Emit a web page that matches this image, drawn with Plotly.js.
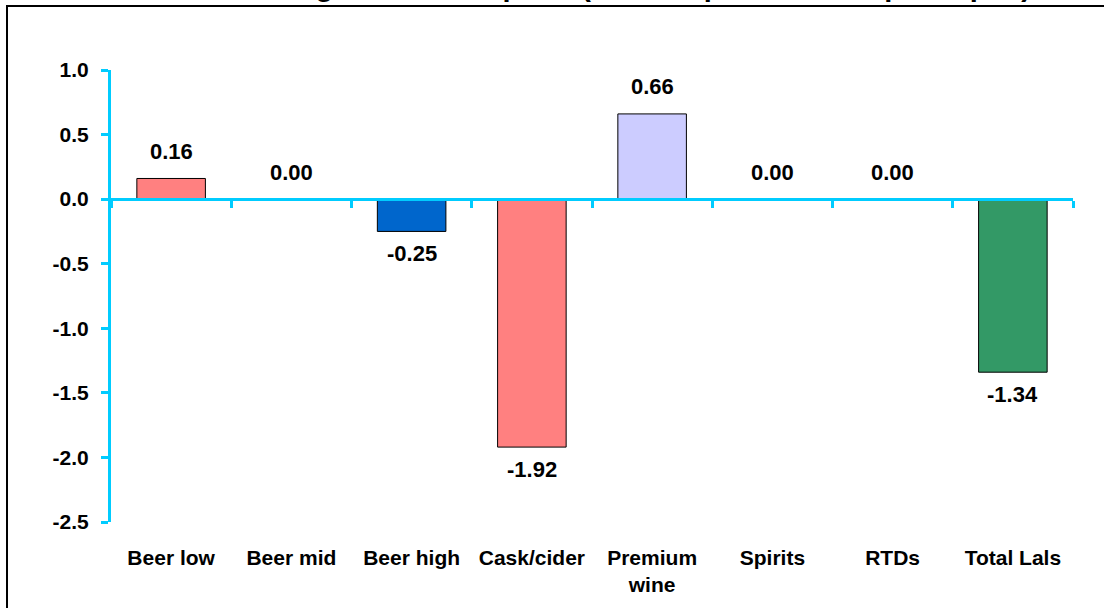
<!DOCTYPE html>
<html>
<head>
<meta charset="utf-8">
<script src="https://cdn.plot.ly/plotly-3.0.1.min.js"></script>
<style>
  html, body { margin: 0; padding: 0; background: #ffffff; }
  #chart { width: 1104px; height: 608px; }
</style>
</head>
<body>
<div id="chart"></div>
<script>
// ---- data ----
const categories = ["Beer low", "Beer mid", "Beer high", "Cask/cider", "Premium wine", "Spirits", "RTDs", "Total Lals"];
const tickLabels = ["Beer low", "Beer mid", "Beer high", "Cask/cider", "Premium<br>wine", "Spirits", "RTDs", "Total Lals"];
const values = [0.16, 0.00, -0.25, -1.92, 0.66, 0.00, 0.00, -1.34];
const barColors = ["#FF8080", "#993366", "#0066CC", "#FF8080", "#CCCCFF", "#800080", "#FFFF99", "#339966"];
const yTickVals = [-2.5, -2.0, -1.5, -1.0, -0.5, 0.0, 0.5, 1.0];
const yTickText = ["-2.5", "-2.0", "-1.5", "-1.0", "-0.5", "0.0", "0.5", "1.0"];
const yRange = [-2.5, 1.0];
const titleText = "Change in consumption (litres of pure alcohol per capita)";

// ---- styling ----
const FONT = "Liberation Sans, Arial, Helvetica, sans-serif";
const AXIS_COLOR = "#00CCFF";

const barTrace = {
  type: "bar",
  x: categories,
  y: values,
  width: 0.57,
  marker: { color: barColors, line: { color: "#000000", width: 1 } },
  hoverinfo: "x+y",
  showlegend: false
};

// invisible helper trace so the crossing axis (at y = 0) is drawn
const axisHelper = {
  type: "scatter",
  mode: "markers",
  x: categories,
  y: categories.map(() => null),
  xaxis: "x2",
  yaxis: "y",
  hoverinfo: "skip",
  showlegend: false
};

const valueLabels = categories.map((c, i) => ({
  x: c,
  y: values[i],
  xref: "x",
  yref: "y",
  text: values[i].toFixed(2),
  showarrow: false,
  xanchor: "center",
  yanchor: "middle",
  yshift: values[i] >= 0 ? 27 : -22,
  font: { family: FONT, size: 22, color: "#000000", weight: "bold" }
}));

const titleAnn = {
  x: 0.547, y: 1.186, xref: "paper", yref: "paper",
  text: titleText, showarrow: false,
  xanchor: "center", yanchor: "middle",
  font: { family: FONT, size: 29, color: "#000000", weight: "bold" }
};

const zeroPos = (0 - yRange[0]) / (yRange[1] - yRange[0]);

const layout = {
  width: 1104,
  height: 608,
  margin: { l: 111, r: 31, t: 70, b: 86, pad: 0 },
  paper_bgcolor: "#ffffff",
  plot_bgcolor: "#ffffff",
  font: { family: FONT, size: 21, color: "#000000", weight: "bold" },
  showlegend: false,
  xaxis: {
    type: "category",
    tickmode: "array",
    tickvals: categories,
    ticktext: tickLabels,
    showline: false,
    showgrid: false,
    zeroline: false,
    ticks: "",
    ticklabelstandoff: 21,
    tickfont: { family: FONT, size: 21, color: "#000000", weight: "bold" },
    fixedrange: true
  },
  xaxis2: {
    type: "category",
    overlaying: "x",
    anchor: "free",
    position: zeroPos,
    matches: "x",
    showline: true,
    linecolor: AXIS_COLOR,
    linewidth: 3,
    ticks: "outside",
    tickson: "boundaries",
    ticklen: 7,
    tickwidth: 3,
    tickcolor: AXIS_COLOR,
    showticklabels: false,
    showgrid: false,
    zeroline: false
  },
  yaxis: {
    range: yRange,
    tickmode: "array",
    tickvals: yTickVals,
    ticktext: yTickText,
    showline: true,
    linecolor: AXIS_COLOR,
    linewidth: 3,
    ticks: "outside",
    ticklen: 7,
    tickwidth: 3,
    tickcolor: AXIS_COLOR,
    showgrid: false,
    zeroline: false,
    ticklabelstandoff: 8,
    tickfont: { family: FONT, size: 21, color: "#000000", weight: "bold" },
    fixedrange: true
  },
  shapes: [{
    type: "rect", xref: "paper", yref: "paper",
    x0: -0.1081, x1: 1.2, y0: -0.4, y1: 1.1416,
    line: { color: "#000000", width: 2 },
    fillcolor: "rgba(0,0,0,0)",
    layer: "below"
  }],
  annotations: [titleAnn].concat(valueLabels)
};

Plotly.newPlot("chart", [barTrace, axisHelper], layout, { displayModeBar: false, staticPlot: true });
</script>
</body>
</html>
